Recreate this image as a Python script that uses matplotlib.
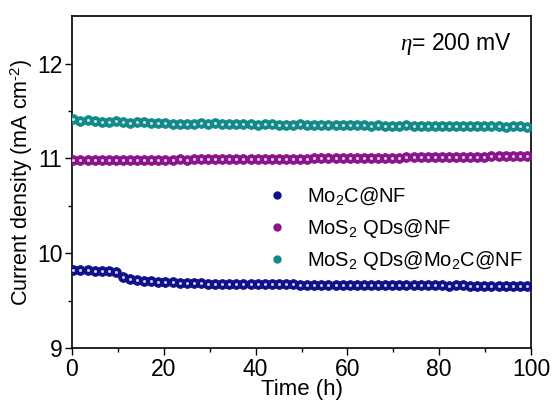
import numpy as np
import matplotlib
matplotlib.use("Agg")
import matplotlib.pyplot as plt
from matplotlib.lines import Line2D

plt.rcParams["font.family"] = ["Liberation Sans", "DejaVu Sans"]
plt.rcParams["mathtext.fontset"] = "custom"
plt.rcParams["mathtext.rm"] = "Liberation Sans"
plt.rcParams["mathtext.it"] = "Liberation Serif:italic"

# ---- data: stability test at constant overpotential ----
time_h = np.linspace(0.3, 99.1, 65)

mo2c_nf = [
    9.82, 9.82, 9.82, 9.815, 9.815, 9.81, 9.80, 9.75, 9.725, 9.715,
    9.71, 9.705, 9.70, 9.695, 9.695, 9.69, 9.69, 9.685, 9.685, 9.68,
    9.68, 9.68, 9.675, 9.675, 9.675, 9.675, 9.67, 9.67, 9.67, 9.67,
    9.67, 9.67, 9.665, 9.665, 9.665, 9.665, 9.665, 9.665, 9.665, 9.66,
    9.66, 9.66, 9.66, 9.66, 9.66, 9.66, 9.66, 9.66, 9.66, 9.66,
    9.66, 9.66, 9.66, 9.655, 9.66, 9.66, 9.655, 9.655, 9.655, 9.655,
    9.655, 9.655, 9.655, 9.655, 9.655,
]
mos2_nf = [
    10.985, 10.985, 10.985, 10.985, 10.985, 10.985, 10.985, 10.985, 10.985, 10.985,
    10.985, 10.985, 10.985, 10.985, 10.985, 10.99, 10.985, 10.99, 10.99, 10.99,
    10.99, 10.99, 10.99, 10.99, 10.99, 10.99, 10.99, 10.995, 10.99, 10.995,
    10.995, 10.995, 10.995, 10.995, 11.0, 11.0, 11.0, 11.0, 11.0, 11.0,
    11.0, 11.005, 11.005, 11.005, 11.005, 11.005, 11.005, 11.01, 11.01, 11.01,
    11.01, 11.01, 11.01, 11.01, 11.015, 11.015, 11.015, 11.015, 11.015, 11.02,
    11.02, 11.02, 11.02, 11.02, 11.02,
]
mos2_mo2c_nf = [
    11.41, 11.395, 11.40, 11.395, 11.385, 11.385, 11.39, 11.38, 11.375, 11.38,
    11.38, 11.375, 11.37, 11.37, 11.365, 11.36, 11.36, 11.365, 11.37, 11.365,
    11.37, 11.365, 11.36, 11.36, 11.36, 11.36, 11.355, 11.36, 11.36, 11.355,
    11.355, 11.355, 11.36, 11.355, 11.355, 11.35, 11.355, 11.35, 11.35, 11.35,
    11.35, 11.35, 11.345, 11.35, 11.345, 11.345, 11.345, 11.35, 11.345, 11.345,
    11.345, 11.34, 11.345, 11.345, 11.34, 11.34, 11.345, 11.34, 11.34, 11.34,
    11.34, 11.335, 11.34, 11.34, 11.335,
]

labels = ["Mo$_2$C@NF", "MoS$_2$ QDs@NF", "MoS$_2$ QDs@Mo$_2$C@NF"]
colors = ["#10108a", "#8a148a", "#138a8a"]
series = [mo2c_nf, mos2_nf, mos2_mo2c_nf]

fig = plt.figure(figsize=(5.52, 4.03), dpi=100)
ax = fig.add_axes([0.1304, 0.1365, 0.8316, 0.8235])

# shaded "sphere" markers: dark ball plus a light highlight
for y, c in zip(series, colors):
    ax.plot(time_h, y, ls="none", marker="o", ms=7.0, mfc=c, mec=c,
            mew=0.6, zorder=3)
    ax.plot(time_h, y, ls="none", marker="o", ms=2.2, mfc="#eeeef6",
            mec="none", alpha=0.85, zorder=4)

ax.set_xlim(0, 100)
ax.set_ylim(9, 12.5)
ax.set_xticks([0, 20, 40, 60, 80, 100])
ax.set_xticks([10, 30, 50, 70, 90], minor=True)
ax.set_yticks([9, 10, 11, 12])
ax.set_yticks([9.5, 10.5, 11.5], minor=True)
ax.tick_params(which="both", direction="out", top=False, right=False,
               labelsize=16.5, width=1.0)
ax.tick_params(which="major", length=5, pad=2)
ax.tick_params(which="minor", length=3)
for sp in ax.spines.values():
    sp.set_linewidth(1.2)

ax.set_xlabel("Time (h)", fontsize=16, labelpad=-1)
ax.set_ylabel(r"Current density (mA cm$^{\text{-}2}$)", fontsize=15.5, labelpad=1)

ax.text(0.9586, 0.915, r"$\eta$= 200 mV", transform=ax.transAxes,
        ha="right", va="center", fontsize=16.5)

handles = [
    Line2D([], [], ls="none", marker="o", ms=5, mfc=c, mec=c)
    for c in colors
]
ax.legend(handles, labels, loc="upper left", bbox_to_anchor=(0.402, 0.52),
          frameon=False, fontsize=14.5, handlelength=1.0, handletextpad=1.0,
          labelspacing=0.48, borderpad=0)

fig.savefig("out.png", dpi=100)
